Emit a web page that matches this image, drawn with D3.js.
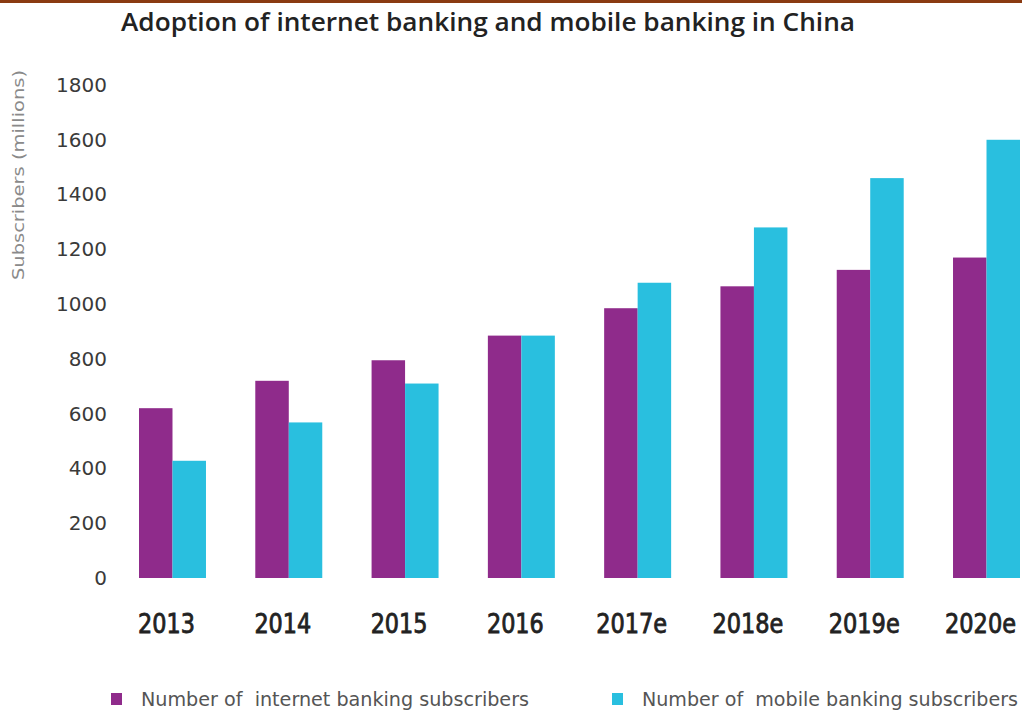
<!DOCTYPE html>
<html>
<head>
<meta charset="utf-8">
<script src="https://cdn.jsdelivr.net/npm/d3@7"></script>
<style>
  body { margin: 0; background: #fff; }
  svg { display: block; }
</style>
</head>
<body>
<svg id="chart" width="1022" height="713"></svg>
<script>
// data
var years = ['2013', '2014', '2015', '2016', '2017e', '2018e', '2019e', '2020e'];
var internet = [620, 720, 795, 885, 985, 1065, 1125, 1170];
var mobile = [428, 568, 710, 885, 1078, 1280, 1460, 1600];
var seriesNames = ['Number of  internet banking subscribers', 'Number of  mobile banking subscribers'];
var yTicks = [0, 200, 400, 600, 800, 1000, 1200, 1400, 1600, 1800];

var colors = ['#8f2b8b', '#29bfdf'];

var svg = d3.select('#chart');

// brown rule along the top
svg.append('rect')
  .attr('x', 0).attr('y', 0)
  .attr('width', 1022).attr('height', 3)
  .attr('fill', '#8a3b12');

// title
svg.append('text')
  .attr('x', 121).attr('y', 31)
  .attr('textLength', 734).attr('lengthAdjust', 'spacingAndGlyphs')
  .style('font-family', '"Open Sans", sans-serif')
  .style('font-weight', 600)
  .style('font-size', '25px')
  .attr('fill', '#222')
  .text('Adoption of internet banking and mobile banking in China');

// scales
var x = d3.scaleBand()
  .domain(years)
  .range([139, 1020])
  .paddingInner(0.424)
  .paddingOuter(0);

var sub = d3.scaleBand()
  .domain([0, 1])
  .range([0, x.bandwidth()]);

var y = d3.scaleLinear()
  .domain([0, 1800])
  .range([578, 85]);

// y axis, labels only
var yAxis = svg.append('g')
  .attr('transform', 'translate(107,0)')
  .call(d3.axisLeft(y).tickValues(yTicks).tickFormat(d3.format('d')).tickSize(0).tickPadding(0));
yAxis.select('.domain').remove();
yAxis.selectAll('text')
  .style('font-family', '"DejaVu Sans", sans-serif')
  .style('font-size', '20px')
  .attr('fill', '#3a3a3a');

svg.append('text')
  .attr('transform', 'translate(24,175) rotate(-90)')
  .attr('text-anchor', 'middle')
  .attr('textLength', 210).attr('lengthAdjust', 'spacingAndGlyphs')
  .style('font-family', '"DejaVu Sans", sans-serif')
  .style('font-size', '16px')
  .attr('fill', '#8a8a8a')
  .text('Subscribers (millions)');

// bars
var groups = svg.append('g').selectAll('g')
  .data(years)
  .join('g')
  .attr('transform', function (d) { return 'translate(' + x(d) + ',0)'; });

groups.selectAll('rect')
  .data(function (d, i) { return [internet[i], mobile[i]]; })
  .join('rect')
  .attr('x', function (d, j) { return sub(j); })
  .attr('y', function (d) { return y(d); })
  .attr('width', sub.bandwidth())
  .attr('height', function (d) { return y(0) - y(d); })
  .attr('fill', function (d, j) { return colors[j]; });

// x axis labels (sit a little left of the group centres)
var xAxis = svg.append('g')
  .attr('transform', 'translate(-6,633)')
  .call(d3.axisBottom(x).tickSize(0).tickPadding(0));
xAxis.select('.domain').remove();
xAxis.selectAll('text')
  .attr('dy', 0)
  .attr('textLength', function (d) { return d.length * 14.2; })
  .attr('lengthAdjust', 'spacingAndGlyphs')
  .style('font-family', '"DejaVu Sans", sans-serif')
  .style('font-stretch', 'condensed')
  .style('font-size', '27px')
  .attr('fill', '#222')
  .attr('stroke', '#222')
  .attr('stroke-width', 0.8);

// legend
var legendX = [111, 612];
var legendW = [388, 376];
var legend = svg.append('g').selectAll('g')
  .data(seriesNames)
  .join('g')
  .attr('transform', function (d, i) { return 'translate(' + legendX[i] + ',693)'; });

legend.append('rect')
  .attr('width', 11).attr('height', 12)
  .attr('fill', function (d, i) { return colors[i]; });

legend.append('text')
  .attr('x', 30).attr('y', 13)
  .attr('textLength', function (d, i) { return legendW[i]; })
  .attr('lengthAdjust', 'spacingAndGlyphs')
  .style('font-family', '"DejaVu Sans", sans-serif')
  .style('font-stretch', 'condensed')
  .style('font-size', '20px')
  .style('white-space', 'pre')
  .attr('fill', '#555')
  .text(function (d) { return d; });
</script>
</body>
</html>
